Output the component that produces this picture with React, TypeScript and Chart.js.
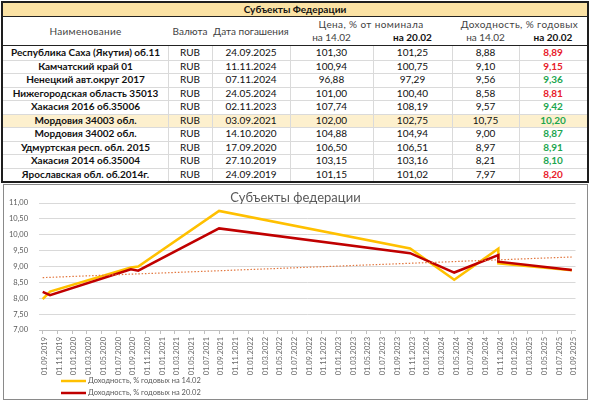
import React, { useEffect, useRef } from 'react';
import { Chart, registerables } from 'chart.js';

Chart.register(...registerables);

// ---------- data ----------
const tableTitle = 'Субъекты Федерации';
const chartTitle = 'Субъекты федерации';
const headerName = 'Наименование';
const headerCurrency = 'Валюта';
const headerMaturity = 'Дата погашения';
const headerPrice = 'Цена, % от номинала';
const headerYield = 'Доходность, % годовых';
const headerDate1 = 'на 14.02';
const headerDate2 = 'на 20.02';

const bondNames = [
  'Республика Саха (Якутия) об.11',
  'Камчатский край 01',
  'Ненецкий авт.округ 2017',
  'Нижегородская область 35013',
  'Хакасия 2016 об.35006',
  'Мордовия 34003 обл.',
  'Мордовия 34002 обл.',
  'Удмуртская респ. обл. 2015',
  'Хакасия 2014 об.35004',
  'Ярославская обл. об.2014г.',
];
const currencies = ['RUB', 'RUB', 'RUB', 'RUB', 'RUB', 'RUB', 'RUB', 'RUB', 'RUB', 'RUB'];
const maturityDates = [
  '24.09.2025', '11.11.2024', '07.11.2024', '24.05.2024', '02.11.2023',
  '03.09.2021', '14.10.2020', '17.09.2020', '27.10.2019', '24.09.2019',
];
const price14 = [101.3, 100.94, 96.88, 101.0, 107.74, 102.0, 104.88, 106.5, 103.15, 101.15];
const price20 = [101.25, 100.75, 97.29, 100.4, 108.19, 102.75, 104.94, 106.51, 103.16, 101.02];
const yield14 = [8.88, 9.1, 9.56, 8.58, 9.57, 10.75, 9.0, 8.97, 8.21, 7.97];
const yield20 = [8.89, 9.15, 9.36, 8.81, 9.42, 10.2, 8.87, 8.91, 8.1, 8.2];
const highlightedRow = 5;

const seriesLabels = ['Доходность, % годовых на 14.02', 'Доходность, % годовых на 20.02'];
const xTickLabels = [
  '01.09.2019', '01.11.2019',
  '01.01.2020', '01.03.2020', '01.05.2020', '01.07.2020', '01.09.2020', '01.11.2020',
  '01.01.2021', '01.03.2021', '01.05.2021', '01.07.2021', '01.09.2021', '01.11.2021',
  '01.01.2022', '01.03.2022', '01.05.2022', '01.07.2022', '01.09.2022', '01.11.2022',
  '01.01.2023', '01.03.2023', '01.05.2023', '01.07.2023', '01.09.2023', '01.11.2023',
  '01.01.2024', '01.03.2024', '01.05.2024', '01.07.2024', '01.09.2024', '01.11.2024',
  '01.01.2025', '01.03.2025', '01.05.2025', '01.07.2025', '01.09.2025',
];
const yMin = 7;
const yMax = 11;
const yStep = 0.5;
// linear trend of the 20.02 series, read at the first and last axis dates
const trendValues = [8.65, 9.3];

// ---------- helpers ----------
const fmt = (v: number) => v.toFixed(2).replace('.', ',');
const parseDate = (s: string) => {
  const [d, m, y] = s.split('.').map(Number);
  return { d, m, y };
};
const origin = parseDate(xTickLabels[0]);
const monthIndex = (s: string) => {
  const p = parseDate(s);
  return (p.y - origin.y) * 12 + (p.m - origin.m);
};
const dateKey = (s: string) => {
  const p = parseDate(s);
  return p.y * 10000 + p.m * 100 + p.d;
};

const FONT = 'Lato, "Liberation Sans", sans-serif';

// ---------- table geometry ----------
const colEdges = [3, 168, 212, 290, 373, 452, 519, 587];
const titleTop = 3;
const titleH = 13;
const headerTop = 17;
const headerH = 28;
const rowsTop = 46;
const rowH = 13.5;

type CellProps = {
  x0: number; x1: number; y: number; h: number; text: string;
  bold?: boolean; color?: string; size?: number; spacing?: number;
};
const Cell = ({ x0, x1, y, h, text, bold, color, size, spacing }: CellProps) => (
  <div
    style={{
      position: 'absolute', left: x0, top: y, width: x1 - x0, height: h,
      lineHeight: h + 'px', textAlign: 'center', whiteSpace: 'nowrap',
      fontWeight: bold ? 700 : 400, color: color || '#111', fontSize: size || 10,
      letterSpacing: spacing ? spacing + 'px' : undefined, overflow: 'visible',
    }}
  >
    {text}
  </div>
);

const HLine = ({ x0, x1, y, color, w }: { x0: number; x1: number; y: number; color: string; w?: number }) => (
  <div style={{ position: 'absolute', left: x0, top: y, width: x1 - x0, height: w || 1, background: color }} />
);
const VLine = ({ x, y0, y1, color }: { x: number; y0: number; y1: number; color: string }) => (
  <div style={{ position: 'absolute', left: x, top: y0, width: 1, height: y1 - y0, background: color }} />
);

const Table = () => {
  const els: React.ReactNode[] = [];
  const L = colEdges[0];
  const R = colEdges[colEdges.length - 1];
  // title row
  els.push(<div key="tbg" style={{ position: 'absolute', left: L, top: titleTop, width: R - L, height: titleH, background: '#FBE2A4' }} />);
  els.push(<Cell key="tt" x0={L} x1={R} y={titleTop} h={titleH} text={tableTitle} bold size={10} />);
  els.push(<HLine key="tl" x0={L} x1={R} y={titleTop + titleH} color="#222" />);
  // header
  const hc = '#3f3f3f';
  els.push(<Cell key="h0" x0={colEdges[0]} x1={colEdges[1]} y={headerTop} h={headerH} text={headerName} color={hc} spacing={0.3} />);
  els.push(<Cell key="h1" x0={colEdges[1]} x1={colEdges[2]} y={headerTop} h={headerH} text={headerCurrency} color={hc} />);
  els.push(<Cell key="h2" x0={colEdges[2]} x1={colEdges[3]} y={headerTop} h={headerH} text={headerMaturity} color={hc} />);
  els.push(<Cell key="h3" x0={colEdges[3]} x1={colEdges[5]} y={headerTop + 1} h={13} text={headerPrice} color={hc} spacing={0.4} />);
  els.push(<Cell key="h4" x0={colEdges[5]} x1={colEdges[7]} y={headerTop + 1} h={13} text={headerYield} color={hc} spacing={0.4} />);
  els.push(<Cell key="h5" x0={colEdges[3]} x1={colEdges[4]} y={headerTop + 14} h={13} text={headerDate1} color={hc} />);
  els.push(<Cell key="h6" x0={colEdges[4]} x1={colEdges[5]} y={headerTop + 14} h={13} text={headerDate2} bold />);
  els.push(<Cell key="h7" x0={colEdges[5]} x1={colEdges[6]} y={headerTop + 14} h={13} text={headerDate1} color={hc} />);
  els.push(<Cell key="h8" x0={colEdges[6]} x1={colEdges[7]} y={headerTop + 14} h={13} text={headerDate2} bold />);
  els.push(<HLine key="hl" x0={L} x1={R} y={headerTop + headerH} color="#222" />);
  // rows
  bondNames.forEach((name, i) => {
    const y = rowsTop + i * rowH;
    if (i === highlightedRow) {
      els.push(<div key={'hb' + i} style={{ position: 'absolute', left: L, top: y, width: R - L, height: rowH, background: '#FDF0CE' }} />);
    }
    const yc = yield20[i] > yield14[i] ? '#E8202A' : '#1DA650';
    els.push(<Cell key={'c0' + i} x0={colEdges[0]} x1={colEdges[1]} y={y} h={rowH} text={name} bold />);
    els.push(<Cell key={'c1' + i} x0={colEdges[1]} x1={colEdges[2]} y={y} h={rowH} text={currencies[i]} />);
    els.push(<Cell key={'c2' + i} x0={colEdges[2]} x1={colEdges[3]} y={y} h={rowH} text={maturityDates[i]} />);
    els.push(<Cell key={'c3' + i} x0={colEdges[3]} x1={colEdges[4]} y={y} h={rowH} text={fmt(price14[i])} />);
    els.push(<Cell key={'c4' + i} x0={colEdges[4]} x1={colEdges[5]} y={y} h={rowH} text={fmt(price20[i])} />);
    els.push(<Cell key={'c5' + i} x0={colEdges[5]} x1={colEdges[6]} y={y} h={rowH} text={fmt(yield14[i])} />);
    els.push(<Cell key={'c6' + i} x0={colEdges[6]} x1={colEdges[7]} y={y} h={rowH} text={fmt(yield20[i])} bold color={yc} />);
    if (i > 0) els.push(<HLine key={'rl' + i} x0={L} x1={R} y={Math.round(y)} color="#DADADA" />);
  });
  for (let c = 1; c < colEdges.length - 1; c++) {
    els.push(<VLine key={'vl' + c} x={colEdges[c]} y0={rowsTop} y1={rowsTop + rowH * bondNames.length} color="#DADADA" />);
  }
  return (
    <>
      {els}
      <div style={{ position: 'absolute', left: 1, top: 1, width: 588, height: 182, border: '2px solid #1e1e1e', boxSizing: 'border-box' }} />
    </>
  );
};

// ---------- chart ----------
const CANVAS_W = 583;
const CANVAS_H = 214;

const LineChart = () => {
  const ref = useRef<HTMLCanvasElement | null>(null);
  useEffect(() => {
    if (!ref.current) return;
    const order = maturityDates.map((_, i) => i).sort((a, b) => dateKey(maturityDates[a]) - dateKey(maturityDates[b]));
    const s1 = order.map((i) => ({ x: monthIndex(maturityDates[i]), y: yield14[i] }));
    const s2 = order.map((i) => ({ x: monthIndex(maturityDates[i]), y: yield20[i] }));
    const trend = [
      { x: monthIndex(xTickLabels[0]), y: trendValues[0] },
      { x: monthIndex(xTickLabels[xTickLabels.length - 1]), y: trendValues[1] },
    ];
    const textColor = '#595959';

    const titlePlugin = {
      id: 'customTitle',
      afterDraw(chart: any) {
        const ctx = chart.ctx;
        ctx.save();
        ctx.font = `13px ${FONT}`;
        ctx.fillStyle = textColor;
        ctx.textAlign = 'center';
        ctx.textBaseline = 'middle';
        ctx.fillText(chartTitle, chart.width / 2, 13);
        ctx.restore();
      },
    };
    const legendPlugin = {
      id: 'customLegend',
      afterDraw(chart: any) {
        const ctx = chart.ctx;
        ctx.save();
        [0, 1].forEach((k) => {
          const ds = chart.data.datasets[k];
          const y = 196 + k * 12;
          ctx.strokeStyle = ds.borderColor;
          ctx.lineWidth = 2.5;
          ctx.beginPath();
          ctx.moveTo(57, y);
          ctx.lineTo(82, y);
          ctx.stroke();
          ctx.font = `7.5px ${FONT}`;
          ctx.fillStyle = textColor;
          ctx.textAlign = 'left';
          ctx.textBaseline = 'middle';
          ctx.fillText(ds.label, 84, y);
        });
        ctx.restore();
      },
    };

    const chart = new Chart(ref.current, {
      type: 'line',
      data: {
        datasets: [
          { label: seriesLabels[0], data: s1, borderColor: '#FFC000', backgroundColor: '#FFC000', borderWidth: 2.5, pointRadius: 0, tension: 0, order: 3 },
          { label: seriesLabels[1], data: s2, borderColor: '#C00000', backgroundColor: '#C00000', borderWidth: 2.5, pointRadius: 0, tension: 0, order: 2 },
          { label: 'trend', data: trend, borderColor: '#E2773F', borderWidth: 1.2, borderDash: [1.5, 1.8], pointRadius: 0, tension: 0, order: 1 },
        ],
      },
      options: {
        responsive: false,
        animation: false,
        devicePixelRatio: 1,
        layout: { padding: { top: 18, right: 11.5, bottom: 24, left: 0 } },
        plugins: { legend: { display: false }, title: { display: false }, tooltip: { enabled: false } },
        scales: {
          x: {
            type: 'linear',
            min: -0.5,
            max: monthIndex(xTickLabels[xTickLabels.length - 1]) + 0.5,
            afterBuildTicks: (scale: any) => {
              scale.ticks = xTickLabels.map((l) => ({ value: monthIndex(l) }));
            },
            afterFit: (scale: any) => { scale.height = 45; },
            grid: { drawOnChartArea: false, drawTicks: true, tickLength: 4, color: '#BFBFBF' },
            border: { display: true, color: '#BFBFBF' },
            ticks: {
              autoSkip: false, minRotation: 90, maxRotation: 90, padding: 3, labelOffset: 2,
              color: '#6a6a6a', font: { family: FONT, size: 7.5 },
              callback: (_v: any, i: number) => xTickLabels[i],
            },
          },
          y: {
            min: yMin,
            max: yMax,
            afterFit: (scale: any) => { scale.width = 35; },
            grid: { color: '#D9D9D9', drawTicks: false },
            border: { display: false },
            ticks: {
              stepSize: yStep, padding: 11, color: textColor, font: { family: FONT, size: 7.5 },
              callback: (v: any) => fmt(Number(v)),
            },
          },
        },
      },
      plugins: [titlePlugin, legendPlugin],
    } as any);
    return () => chart.destroy();
  }, []);
  return (
    <div style={{ position: 'absolute', left: 3, top: 184, width: CANVAS_W + 2, height: CANVAS_H + 2, border: '1px solid #8a8a8a', boxSizing: 'border-box' }}>
      <canvas ref={ref} width={CANVAS_W} height={CANVAS_H} style={{ display: 'block', width: CANVAS_W, height: CANVAS_H }} />
    </div>
  );
};

export default function App() {
  return (
    <div style={{ position: 'absolute', left: 0, top: 0, width: 590, height: 403, background: '#fff', fontFamily: FONT, overflow: 'hidden' }}>
      <Table />
      <LineChart />
    </div>
  );
}
